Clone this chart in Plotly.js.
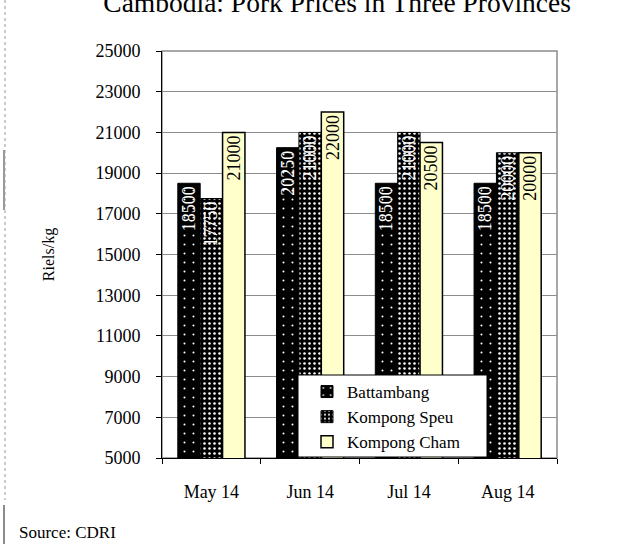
<!DOCTYPE html>
<html>
<head>
<meta charset="utf-8">
<script src="https://cdn.plot.ly/plotly-3.0.1.min.js"></script>
<style>
    html, body { margin: 0; padding: 0; background: #ffffff; }
    #chart { width: 629px; height: 544px; }
</style>
</head>
<body>
<div id="chart"></div>
<script>
    var months = ['May 14', 'Jun 14', 'Jul 14', 'Aug 14'];
    var battambang = [18500, 20250, 18500, 18500];
    var kompongSpeu = [17750, 21000, 21000, 20000];
    var kompongCham = [21000, 22000, 20500, 20000];

    var serif = 'Liberation Serif, Times New Roman, serif';

    // paper coords for things outside the plot area (plot is 162..557 x 51..458)
    function px(x) { return (x - 162) / 395; }
    function py(y) { return (458 - y) / 407; }

    var barText = function (arr) { return arr.map(function (v) { return String(v); }); };

    var dados = [
        {
            type: 'bar',
            name: 'Battambang',
            legendgroup: 'a',
            x: months,
            y: battambang,
            text: barText(battambang),
            textposition: 'inside',
            insidetextanchor: 'end',
            textangle: -90,
            constraintext: 'none',
            textfont: { family: serif, size: 18, color: '#ffffff' },
            marker: {
                color: '#000000',
                line: { color: '#000000', width: 1 },
                pattern: { shape: '.', fillmode: 'replace', bgcolor: '#000000', fgcolor: '#ffffff', size: 9, solidity: 0.04 }
            }
        },
        {
            type: 'bar',
            name: 'Kompong Speu',
            legendgroup: 'b',
            x: months,
            y: kompongSpeu,
            text: barText(kompongSpeu),
            textposition: 'inside',
            insidetextanchor: 'end',
            textangle: -90,
            constraintext: 'none',
            textfont: { family: serif, size: 18, color: '#ffffff' },
            marker: {
                color: '#000000',
                line: { color: '#000000', width: 1 },
                pattern: { shape: '.', fillmode: 'replace', bgcolor: '#000000', fgcolor: '#ffffff', size: 5, solidity: 0.2 }
            }
        },
        {
            type: 'bar',
            name: 'Kompong Cham',
            legendgroup: 'c',
            x: months,
            y: kompongCham,
            text: barText(kompongCham),
            textposition: 'inside',
            insidetextanchor: 'end',
            textangle: -90,
            constraintext: 'none',
            textfont: { family: serif, size: 18, color: '#000000' },
            marker: {
                color: '#ffffcc',
                line: { color: '#000000', width: 1.5 }
            }
        }
    ];

    var layout = {
        width: 629,
        height: 544,
        paper_bgcolor: '#ffffff',
        plot_bgcolor: '#ffffff',
        margin: { l: 162, r: 72, t: 51, b: 86 },
        font: { family: serif, size: 18, color: '#000000' },
        title: {
            text: 'Cambodia: Pork Prices in Three Provinces',
            font: { family: serif, size: 27.5, color: '#000000' },
            x: 0.536,
            xanchor: 'center',
            yref: 'container',
            y: 0.995,
            yanchor: 'middle'
        },
        barmode: 'group',
        bargap: 0.32,
        bargroupgap: 0,
        showlegend: true,
        legend: {
            x: px(307),
            xanchor: 'left',
            y: py(374),
            yanchor: 'top',
            bgcolor: 'rgba(0,0,0,0)',
            borderwidth: 0,
            traceorder: 'grouped',
            tracegroupgap: 0,
            itemwidth: 30,
            font: { family: serif, size: 17, color: '#000000' }
        },
        xaxis: {
            type: 'category',
            showline: true,
            linecolor: '#000000',
            linewidth: 1,
            ticks: 'outside',
            tickson: 'boundaries',
            ticklen: 5,
            tickcolor: '#000000',
            ticklabelstandoff: 17,
            showgrid: false,
            tickfont: { family: serif, size: 18 }
        },
        yaxis: {
            range: [5000, 25000],
            autorange: false,
            tick0: 5000,
            dtick: 2000,
            tickformat: 'd',
            showline: true,
            linecolor: '#000000',
            linewidth: 1,
            ticks: 'outside',
            ticklen: 5,
            tickcolor: '#000000',
            ticklabelstandoff: 12,
            showgrid: true,
            gridcolor: '#8c8c8c',
            gridwidth: 1,
            zeroline: false,
            tickfont: { family: serif, size: 18 },
            title: {
                text: 'Riels/kg',
                font: { family: serif, size: 16 },
                standoff: 36
            }
        },
        shapes: [
            // plot frame
            { type: 'rect', xref: 'paper', yref: 'paper', x0: 0, x1: 1, y0: 0, y1: 1,
              line: { color: '#8c8c8c', width: 1.5 }, layer: 'below' },
            // legend box
            { type: 'rect', xref: 'paper', yref: 'paper', x0: px(298), x1: px(487), y0: py(457), y1: py(375),
              fillcolor: '#ffffff', line: { color: '#000000', width: 1 }, layer: 'above' },
            // page edge marks on the left
            { type: 'line', xref: 'paper', yref: 'paper', x0: px(5), x1: px(5), y0: py(0), y1: py(500),
              line: { color: '#9a9a9a', width: 1, dash: 'dot' } },
            { type: 'line', xref: 'paper', yref: 'paper', x0: px(4), x1: px(4), y0: py(150), y1: py(210),
              line: { color: '#9a9a9a', width: 2 } },
            { type: 'line', xref: 'paper', yref: 'paper', x0: px(4), x1: px(4), y0: py(505), y1: py(544),
              line: { color: '#8c8c8c', width: 2 } }
        ],
        annotations: [
            {
                text: 'Source: CDRI',
                xref: 'paper', yref: 'paper',
                x: px(17), y: py(532),
                xanchor: 'left', yanchor: 'middle',
                showarrow: false,
                font: { family: serif, size: 17, color: '#000000' }
            }
        ]
    };

    Plotly.newPlot('chart', dados, layout, { displayModeBar: false, staticPlot: true });
</script>
</body>
</html>
